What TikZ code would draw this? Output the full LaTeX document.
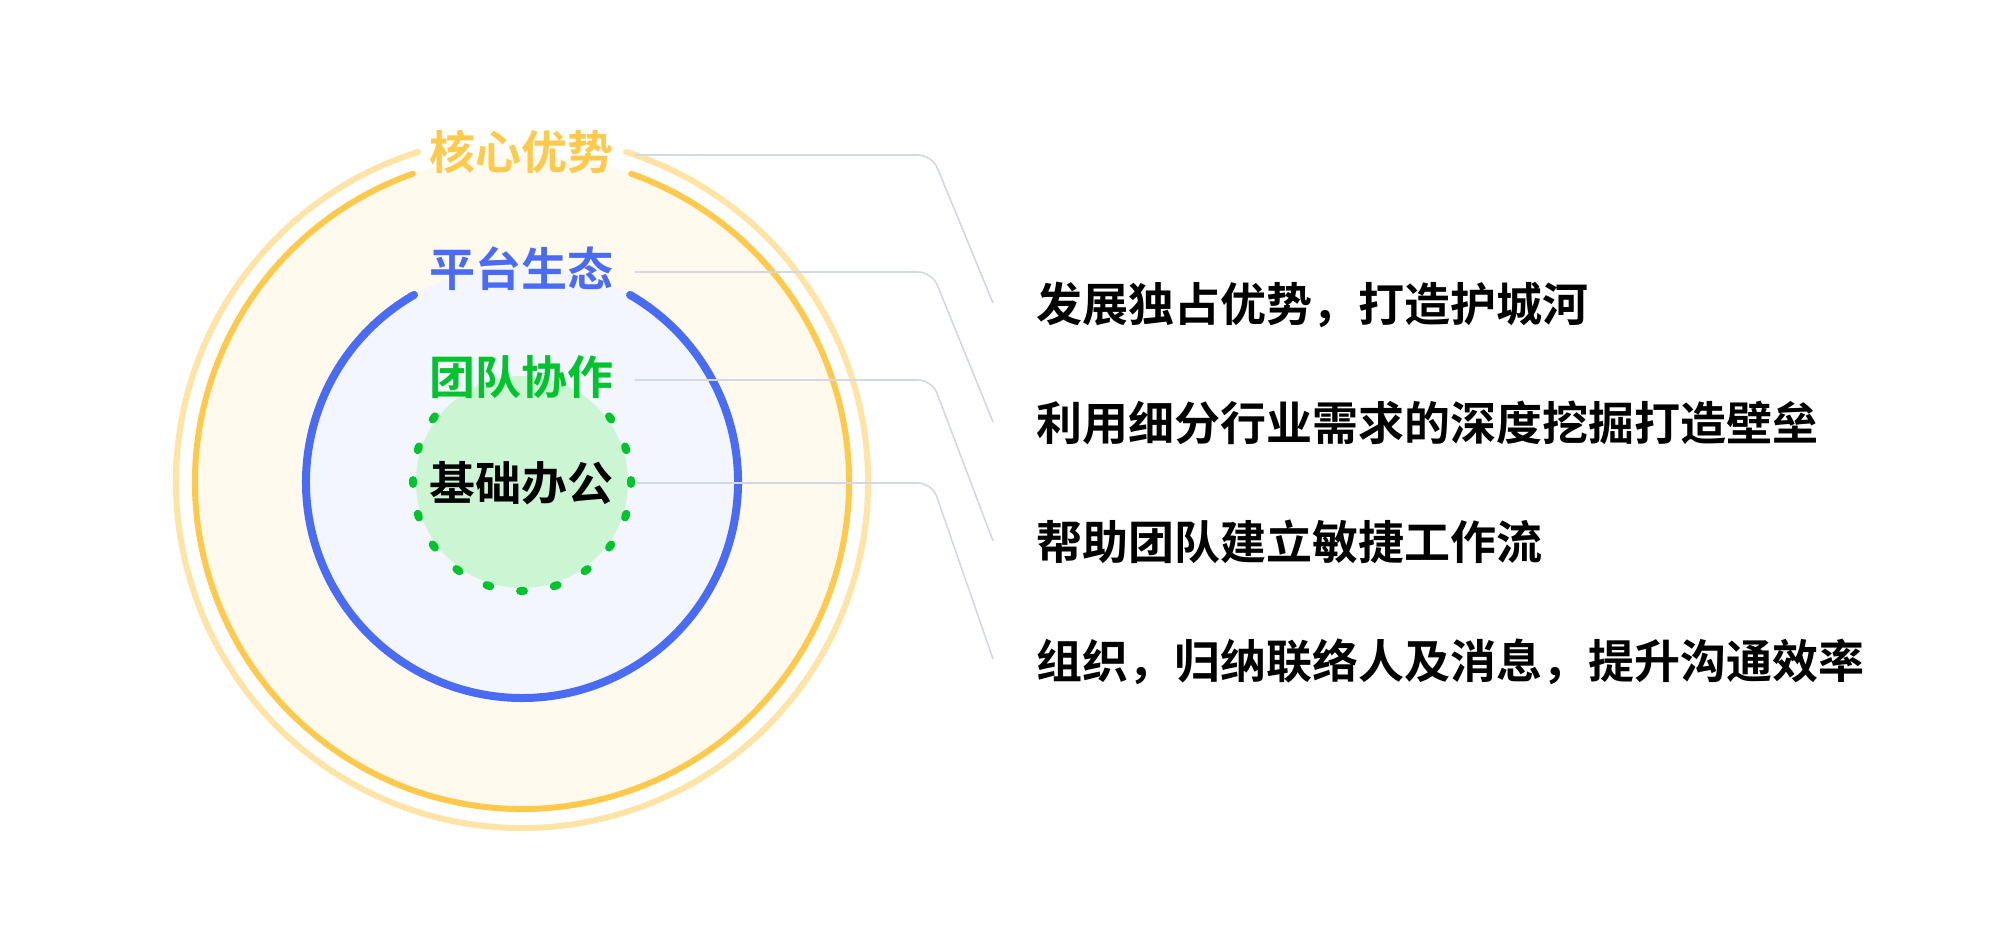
\documentclass[tikz,border=0pt]{standalone}
\usepackage{fontspec}
\setmainfont{Noto Sans CJK SC}[BoldFont={Noto Sans CJK SC Bold}]
\usetikzlibrary{calc}
\definecolor{paleY}{HTML}{FFE4A6}
\definecolor{goldY}{HTML}{FFC94B}
\definecolor{creamF}{HTML}{FFF9EE}
\definecolor{blueR}{HTML}{4A6CF5}
\definecolor{blueF}{HTML}{F3F6FE}
\definecolor{greenR}{HTML}{00C42B}
\definecolor{greenF}{HTML}{CCF5D4}
\definecolor{leaderC}{HTML}{D3D8E5}
\tikzset{
  lbl/.style={anchor=base, inner sep=0pt, font=\fontsize{23pt}{27pt}\selectfont\bfseries},
  item/.style={anchor=base west, inner sep=0pt, font=\fontsize{23pt}{27pt}\selectfont\bfseries, text=black},
  leader/.style={draw=leaderC, line width=0.8pt, rounded corners=7pt},
  ring/.style={line width=3pt, line cap=round},
  dotmark/.style={draw=greenR, line width=4pt, line cap=round},
}
\begin{document}
\begin{tikzpicture}[x=0.5pt,y=0.5pt]
\useasboundingbox (0,0) rectangle (2000,935);
\fill[white] (0,0) rectangle (2000,935);
\coordinate (c) at (522,453);
% fills
\fill[creamF] (c) circle[radius=327];
\fill[blueF] (c) circle[radius=216];
\fill[greenF] (c) circle[radius=106];
% rings
\draw[ring, paleY] ($(c)+(107.5:346)$) arc[start angle=107.5, end angle=432.5, radius=346];
\draw[ring, goldY] ($(c)+(109.5:327)$) arc[start angle=109.5, end angle=430.5, radius=327];
\draw[ring, blueR, line width=4pt] ($(c)+(120:216)$) arc[start angle=120, end angle=420, radius=216];
% dotted ring
\foreach \a in {0,18,36,144,162,180,198,216,234,252,270,288,306,324,342}
  \draw[dotmark] ($(c)+(\a-1:109)$) arc[start angle=\a-1, end angle=\a+1, radius=109];
% labels
\node[lbl, text=goldY] (n1) at (521,765) {核心优势};
\node[lbl, text=blueR] (n2) at (521,648) {平台生态};
\node[lbl, text=greenR] (n3) at (521,540) {团队协作};
\node[lbl, text=black] (n4) at (521,434) {基础办公};
% right texts
\node[item] (r1) at (1036,613) {发展独占优势，打造护城河};
\node[item] (r2) at (1036,494) {利用细分行业需求的深度挖掘打造壁垒};
\node[item] (r3) at (1036,375) {帮助团队建立敏捷工作流};
\node[item] (r4) at (1036,256) {组织，归纳联络人及消息，提升沟通效率};
% leader lines
\coordinate (s1) at (635,780); \coordinate (k1) at (932,780); \coordinate (e1) at (993,632);
\coordinate (s2) at (635,663); \coordinate (k2) at (932,663); \coordinate (e2) at (993,513);
\coordinate (s3) at (635,555); \coordinate (k3) at (932,555); \coordinate (e3) at (993,394);
\coordinate (s4) at (635,452); \coordinate (k4) at (932,452); \coordinate (e4) at (993,276);
\draw[leader] (s1) -- (k1) -- (e1);
\draw[leader] (s2) -- (k2) -- (e2);
\draw[leader] (s3) -- (k3) -- (e3);
\draw[leader] (s4) -- (k4) -- (e4);
\end{tikzpicture}
\end{document}
